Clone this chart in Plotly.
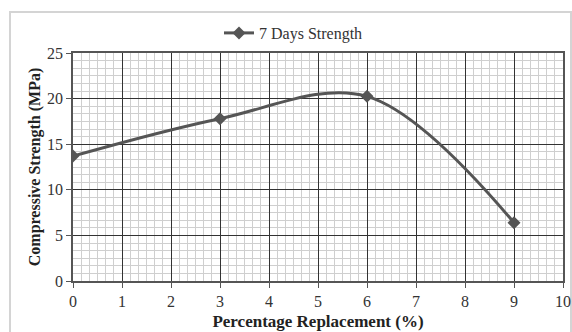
import plotly.graph_objects as go

x_vals = [0, 3, 6, 9]
y_vals = [13.7, 17.8, 20.25, 6.4]
series_name = "7 Days Strength"
x_title = "Percentage Replacement (%)"
y_title = "Compressive Strength (MPa)"

fig = go.Figure()
fig.add_trace(go.Scatter(
    x=x_vals, y=y_vals, name=series_name, mode="lines+markers",
    line=dict(color="#555555", width=3, shape="spline", smoothing=1.0),
    marker=dict(symbol="diamond", size=10, color="#555555"),
))

font_family = "Liberation Serif"
axis_common = dict(
    showline=True, linecolor="#555555", linewidth=1.5,
    showgrid=True, gridcolor="#333333", gridwidth=1.4,
    ticks="outside", ticklen=5, tickcolor="#555555",
    tickfont=dict(family=font_family, size=16, color="#333333"),
    zeroline=False, automargin=False,
)
fig.update_xaxes(range=[0, 10], dtick=1, tick0=0,
                 minor=dict(dtick=1/6, showgrid=True, gridcolor="#cfcfcf", gridwidth=1),
                 title=dict(text="<b>" + x_title + "</b>", font=dict(family=font_family, size=17, color="#222222"), standoff=6),
                 mirror=True, **axis_common)
fig.update_yaxes(range=[0, 25], dtick=5, tick0=0,
                 minor=dict(dtick=5/6, showgrid=True, gridcolor="#cfcfcf", gridwidth=1),
                 title=dict(text="<b>" + y_title + "</b>", font=dict(family=font_family, size=16, color="#222222"), standoff=2),
                 mirror=True, **axis_common)

W, H = 572, 332
l, r, t, b = 73, 9, 53, 51
pw, ph = W - l - r, H - t - b
def px(xp): return (xp - l) / pw
def py(yp): return (H - b - yp) / ph

fig.add_shape(type="rect", xref="paper", yref="paper",
              x0=px(10), x1=px(571), y0=py(340), y1=py(12),
              line=dict(color="#d4d4d4", width=2), fillcolor="rgba(0,0,0,0)", layer="below")

fig.update_layout(
    width=W, height=H, margin=dict(l=l, r=r, t=t, b=b),
    paper_bgcolor="white", plot_bgcolor="white",
    showlegend=True,
    legend=dict(orientation="h", x=0.45, xanchor="center", y=py(33), yanchor="middle",
                font=dict(family=font_family, size=16, color="#333333"),
                itemwidth=30, bgcolor="rgba(0,0,0,0)"),
)
fig.write_html("out.html")
